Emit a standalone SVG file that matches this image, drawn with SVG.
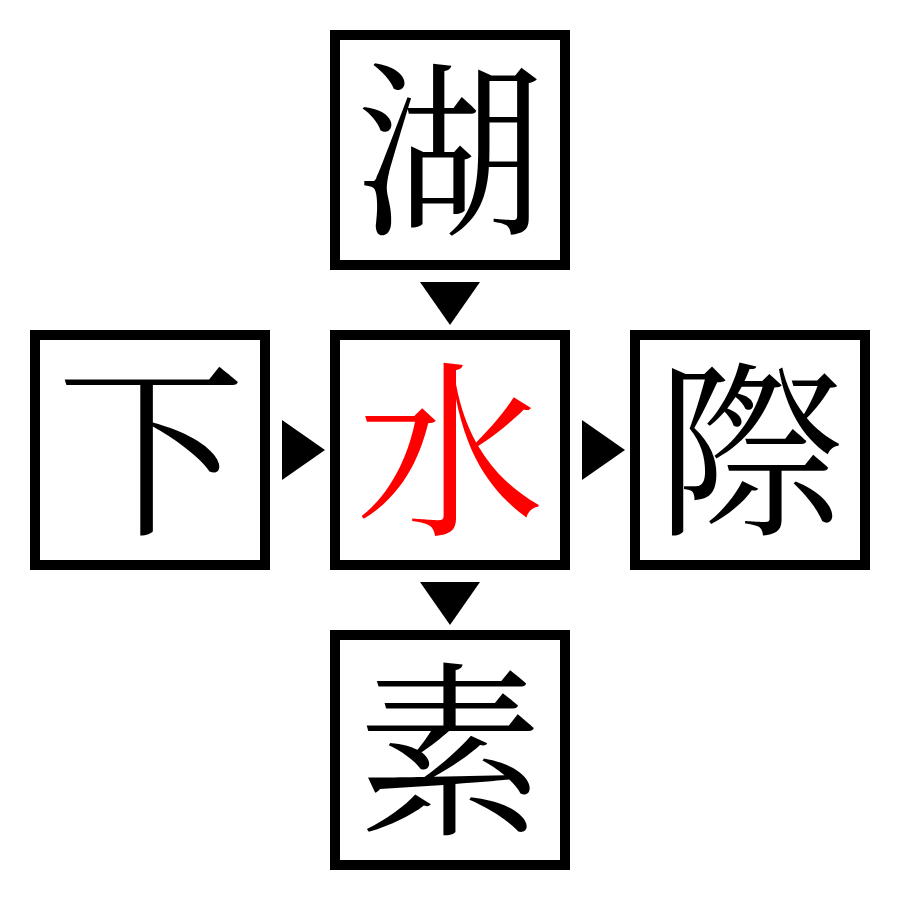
<svg xmlns="http://www.w3.org/2000/svg" width="900" height="900" viewBox="0 0 900 900">
<style>
.box{fill:#fff;stroke:#000;stroke-width:10}
.ch{font-family:"Noto Serif CJK JP","Noto Sans CJK JP",serif;font-size:188px;text-anchor:middle;dominant-baseline:central;fill:#000}
.arrow{fill:#000}
</style>
<rect width="900" height="900" fill="#fff"/>
<g id="node-top"><rect class="box" x="335" y="35" width="230" height="230"/><text class="ch" x="450" y="139">湖</text></g>
<g id="node-left"><rect class="box" x="35" y="335" width="230" height="230"/><text class="ch" x="151" y="439">下</text></g>
<g id="node-center"><rect class="box" x="335" y="335" width="230" height="230"/><text class="ch" x="450" y="439" style="fill:#f00">水</text></g>
<g id="node-right"><rect class="box" x="635" y="335" width="230" height="230"/><text class="ch" x="750" y="439">際</text></g>
<g id="node-bottom"><rect class="box" x="335" y="635" width="230" height="230"/><text class="ch" x="450" y="739">素</text></g>
<g id="connectors">
<polygon class="arrow" points="420,282 480,282 450,325"/>
<polygon class="arrow" points="282,420 325,450 282,480"/>
<polygon class="arrow" points="582,420 625,450 582,480"/>
<polygon class="arrow" points="420,582 480,582 450,625"/>
</g>
</svg>
